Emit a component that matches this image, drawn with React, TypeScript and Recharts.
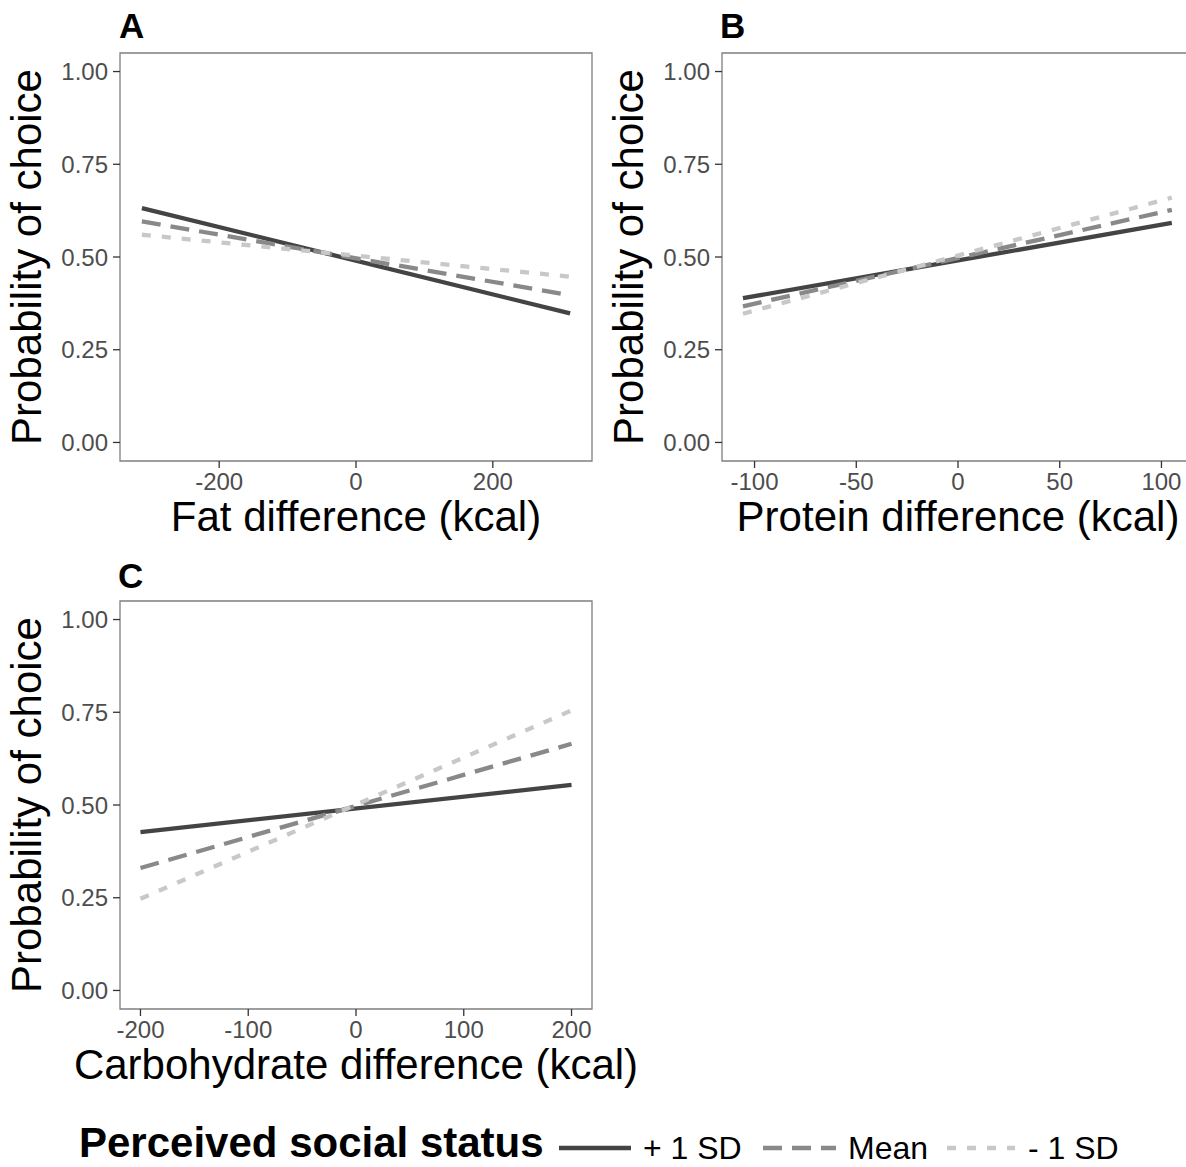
import React from 'react'
import { LineChart, Line, XAxis, YAxis, ReferenceArea } from 'recharts'

const FONT = '"Liberation Sans", Arial, Helvetica, sans-serif'

// panel A: fat
const fatX = [-313, 313]
const fatHigh = [0.632, 0.348]
const fatMean = [0.596, 0.397]
const fatLow = [0.56, 0.447]

// panel B: protein
const proteinX = [-105.7, 105.1]
const proteinHigh = [0.389, 0.592]
const proteinMean = [0.367, 0.627]
const proteinLow = [0.347, 0.66]

// panel C: carbohydrate
const carbX = [-200, 200]
const carbHigh = [0.427, 0.554]
const carbMean = [0.33, 0.665]
const carbLow = [0.247, 0.755]

const yTicks = [0, 0.25, 0.5, 0.75, 1]
const fatTicks = [-200, 0, 200]
const proteinTicks = [-100, -50, 0, 50, 100]
const carbTicks = [-200, -100, 0, 100, 200]

const legendLabels = ['+ 1 SD', 'Mean', '- 1 SD']

const COLORS = { high: '#444444', mean: '#898989', low: '#c8c8c8' }
const DASH = { high: undefined, mean: '19 10', low: '9 11' }

const toRows = (xs: number[], high: number[], mean: number[], low: number[]) =>
  xs.map((x, i) => ({ x, high: high[i], mean: mean[i], low: low[i] }))

function XTitle({ viewBox, value, plotWidth }: any) {
  const { x, y } = viewBox
  return (
    <text x={x + plotWidth / 2} y={y + 70} textAnchor="middle" fontSize={42} fontFamily={FONT} fill="#000">
      {value}
    </text>
  )
}

function YTitle({ viewBox, value }: any) {
  const { x, y, width, height } = viewBox
  const cx = x + width - 79
  const cy = y + height / 2
  return (
    <text x={cx} y={cy} transform={`rotate(-90 ${cx} ${cy})`} textAnchor="middle" fontSize={42} fontFamily={FONT} fill="#000">
      {value}
    </text>
  )
}

function Panel({
  left, top, width, plotWidth, yWidth, rows, domain, ticks, xTitle,
}: {
  left: number; top: number; width: number; plotWidth: number; yWidth: number
  rows: { x: number; high: number; mean: number; low: number }[]
  domain: [number, number]; ticks: number[]; xTitle: string
}) {
  const tickStyle = { fill: '#4d4d4d', fontSize: 24, fontFamily: FONT }
  return (
    <div style={{ position: 'absolute', left, top }}>
      <LineChart width={width} height={551} data={rows}
        margin={{ top: 53, right: width - yWidth - plotWidth, left: 0, bottom: 0 }}>
        <XAxis
          type="number" dataKey="x" domain={domain} ticks={ticks} interval={0} allowDataOverflow
          axisLine={false} tickLine={{ stroke: '#333', strokeWidth: 1.3 }} tickSize={7} tickMargin={5}
          tick={tickStyle} height={90} label={<XTitle value={xTitle} plotWidth={plotWidth} />}
        />
        <YAxis
          type="number" domain={[-0.05, 1.05]} ticks={yTicks} interval={0} allowDataOverflow
          axisLine={false} tickLine={{ stroke: '#333', strokeWidth: 1.3 }} tickSize={7} tickMargin={5}
          tick={tickStyle} width={yWidth} tickFormatter={(v: number) => v.toFixed(2)}
          label={<YTitle value="Probability of choice" />}
        />
        <ReferenceArea x1={domain[0]} x2={domain[1]} y1={-0.05} y2={1.05} fill="none" stroke="#7f7f7f" strokeWidth={1.3} />
        {(['high', 'mean', 'low'] as const).map((k) => (
          <Line
            key={k} type="linear" dataKey={k} stroke={COLORS[k]} strokeWidth={4.3}
            strokeDasharray={DASH[k]} dot={false} activeDot={false} isAnimationActive={false}
          />
        ))}
      </LineChart>
    </div>
  )
}

export default function App() {
  const legendKeys = [
    { k: 'high' as const, x1: 559, x2: 631, tx: 643 },
    { k: 'mean' as const, x1: 763, x2: 836, tx: 848 },
    { k: 'low' as const, x1: 947, x2: 1015, tx: 1028 },
  ]
  return (
    <div style={{ position: 'fixed', left: 0, top: 0, width: 1186, height: 1167, overflow: 'hidden', background: '#fff', fontFamily: FONT }}>
      <Panel left={0} top={0} width={600} plotWidth={472} yWidth={120}
        rows={toRows(fatX, fatHigh, fatMean, fatLow)} domain={[-345, 345]} ticks={fatTicks}
        xTitle="Fat difference (kcal)" />
      <Panel left={600} top={0} width={600} plotWidth={472} yWidth={122}
        rows={toRows(proteinX, proteinHigh, proteinMean, proteinLow)} domain={[-116, 116]} ticks={proteinTicks}
        xTitle="Protein difference (kcal)" />
      <Panel left={0} top={548} width={700} plotWidth={472} yWidth={120}
        rows={toRows(carbX, carbHigh, carbMean, carbLow)} domain={[-219, 219]} ticks={carbTicks}
        xTitle="Carbohydrate difference (kcal)" />
      <svg width={1186} height={1167} style={{ position: 'absolute', left: 0, top: 0, pointerEvents: 'none' }}>
        <text x={119} y={38} fontSize={35} fontWeight="bold" fontFamily={FONT}>A</text>
        <text x={720} y={38} fontSize={35} fontWeight="bold" fontFamily={FONT}>B</text>
        <text x={118} y={588} fontSize={35} fontWeight="bold" fontFamily={FONT}>C</text>
        <text x={79} y={1157} fontSize={42} fontWeight="bold" fontFamily={FONT}>Perceived social status</text>
        {legendKeys.map((l, i) => (
          <g key={l.k}>
            <line x1={l.x1} x2={l.x2} y1={1148} y2={1148} stroke={COLORS[l.k]} strokeWidth={4.3} strokeDasharray={DASH[l.k]} />
            <text x={l.tx} y={1159} fontSize={32} fontFamily={FONT} fill="#000">{legendLabels[i]}</text>
          </g>
        ))}
      </svg>
    </div>
  )
}
